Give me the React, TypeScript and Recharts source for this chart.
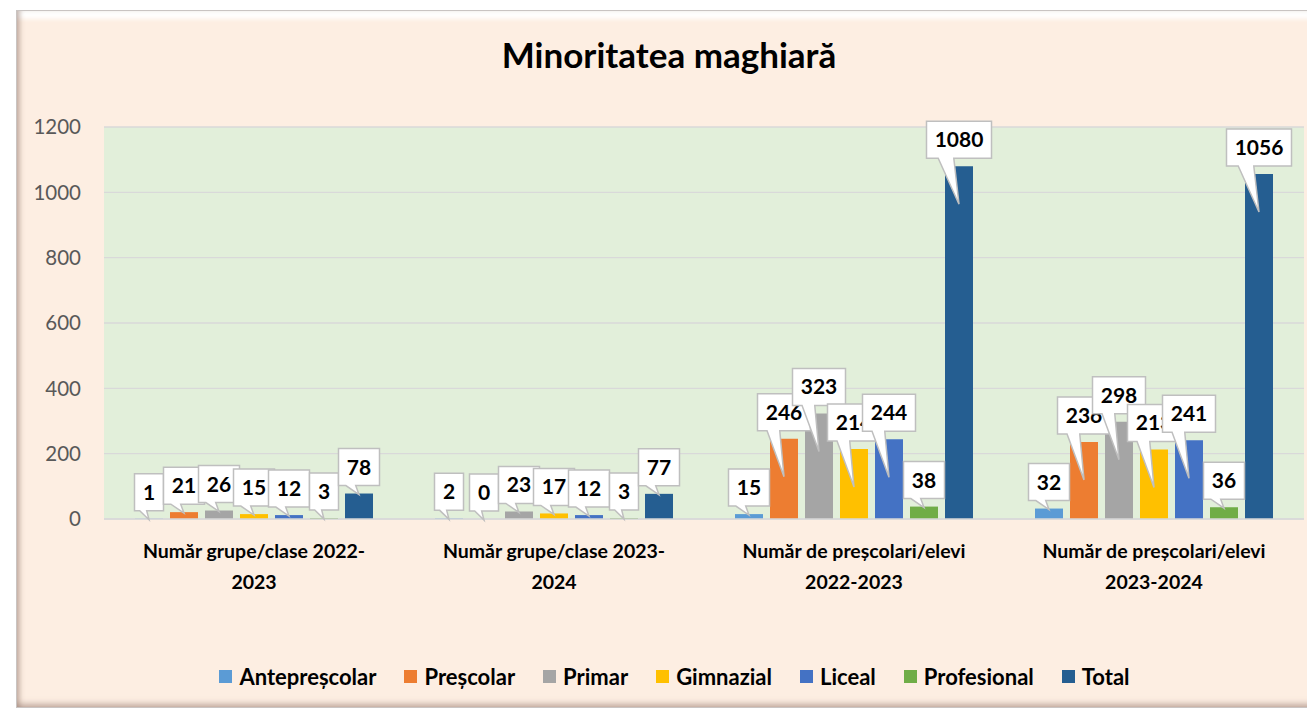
import React from "react";
import { BarChart, Bar, XAxis, YAxis, CartesianGrid, LabelList } from "recharts";

const categoryLines: string[][] = [
  ["Număr grupe/clase 2022-", "2023"],
  ["Număr grupe/clase 2023-", "2024"],
  ["Număr de preșcolari/elevi", "2022-2023"],
  ["Număr de preșcolari/elevi", "2023-2024"],
];
const categories = categoryLines.map((l) => l.join(" "));

const antepresc = [1, 2, 15, 32];
const presc = [21, 0, 246, 236];
const primar = [26, 23, 323, 298];
const gimnazial = [15, 17, 214, 213];
const liceal = [12, 12, 244, 241];
const profesional = [3, 3, 38, 36];
const total = [78, 77, 1080, 1056];

const yTicks = [0, 200, 400, 600, 800, 1000, 1200];

const seriesNames = ["Antepreșcolar", "Preșcolar", "Primar", "Gimnazial", "Liceal", "Profesional", "Total"];
const seriesKeys = ["a", "b", "c", "d", "e", "f", "g"];
const seriesValues = [antepresc, presc, primar, gimnazial, liceal, profesional, total];
const seriesColors = ["#5B9BD5", "#ED7D31", "#A5A5A5", "#FFC000", "#4472C4", "#70AD47", "#255E91"];

const data = categories.map((name, i) => {
  const row: Record<string, any> = { name, idx: i };
  seriesKeys.forEach((k, s) => (row[k] = seriesValues[s][i]));
  return row;
});

const FONT = "Lato, 'Noto Sans', sans-serif";

const CalloutLabel = (props: any) => {
  const x = Number(props.x ?? props.viewBox?.x ?? 0);
  const y = Number(props.y ?? props.viewBox?.y ?? 0);
  const w = Number(props.width ?? props.viewBox?.width ?? 0);
  const rawH = Number(props.height ?? props.viewBox?.height ?? 0);
  const h = Math.abs(rawH);
  const txt = String(props.value);
  const bx = x + w / 2;
  const top = Math.min(y, y + rawH);
  const boxW = txt.length * 12 + 17;
  const boxH = 37;
  const boxBottom = top - 8;
  const boxTop = boxBottom - boxH;
  const left = bx - boxW / 2;
  const right = left + boxW;
  const tipY = h > 38 ? top + 38 : top + 1;
  const baseL = left + boxW * 0.18;
  const baseR = left + boxW * 0.42;
  const d = `M${left},${boxTop} H${right} V${boxBottom} H${baseR} L${bx},${tipY} L${baseL},${boxBottom} H${left} Z`;
  return (
    <g>
      <path d={d} fill="#FFFFFF" stroke="#BFBFBF" strokeWidth={1.5} strokeLinejoin="miter" />
      <text
        x={bx}
        y={boxTop + boxH / 2 + 7.5}
        textAnchor="middle"
        fontFamily={FONT}
        fontWeight={700}
        fontSize={21}
        fill="#000000"
      >
        {txt}
      </text>
    </g>
  );
};

const CategoryTick = (props: any) => {
  const { x, payload } = props;
  const idx = categories.indexOf(payload.value);
  const lines = idx >= 0 ? categoryLines[idx] : [String(payload.value)];
  return (
    <g>
      {lines.map((ln, i) => (
        <text
          key={i}
          x={x}
          y={558 + i * 31}
          textAnchor="middle"
          fontFamily={FONT}
          fontWeight={700}
          fontSize={19.5}
          fill="#000000"
        >
          {ln}
        </text>
      ))}
    </g>
  );
};

const LegendContent = () => (
  <div
    style={{
      position: "absolute",
      left: 0,
      top: 0,
      width: 1307,
      display: "flex",
      justifyContent: "center",
      gap: 28,
      fontFamily: FONT,
      fontWeight: 700,
      fontSize: 22,
      color: "#000",
      paddingLeft: 42,
      boxSizing: "border-box",
    }}
  >
    {seriesNames.map((n, i) => (
      <div key={n} style={{ display: "flex", alignItems: "center", gap: 7 }}>
        <span style={{ width: 13, height: 13, background: seriesColors[i], display: "inline-block" }} />
        <span>{n}</span>
      </div>
    ))}
  </div>
);

export default function App() {
  return (
    <div
      style={{
        position: "absolute",
        left: 0,
        top: 0,
        width: 1307,
        height: 709,
        background: "#FFFFFF",
        overflow: "hidden",
      }}
    >
      <div
        style={{
          position: "absolute",
          left: 16,
          top: 10,
          width: 1310,
          height: 698,
          background: "#FDEEE2",
          border: "1.5px solid #C9C4C2",
          boxSizing: "border-box",
          boxShadow:
            "inset 5px 0 5px -2px rgba(140,110,100,0.45), inset 0 -6px 6px -3px rgba(140,110,100,0.5), inset 0 14px 4px -6px rgba(255,255,255,0.95)",
        }}
      />
      <div
        style={{
          position: "absolute",
          left: 0,
          top: 33,
          width: 1338,
          textAlign: "center",
          fontFamily: FONT,
          fontWeight: 700,
          fontSize: 35,
          color: "#000",
        }}
      >
        Minoritatea maghiară
      </div>
      <div style={{ position: "absolute", left: 0, top: 0 }}>
        <BarChart
          width={1307}
          height={709}
          data={data}
          margin={{ top: 127, right: 3, bottom: 0, left: 44 }}
          barSize={28}
          barGap={7}
        >
          <CartesianGrid vertical={false} stroke="#D9D9D9" strokeWidth={1.3} fill="#E2EFDA" />
          <XAxis
            dataKey="name"
            axisLine={{ stroke: "#D9D9D9", strokeWidth: 1.3 }}
            tickLine={false}
            interval={0}
            tick={<CategoryTick />}
            height={190}
          />
          <YAxis
            domain={[0, 1200]}
            ticks={yTicks}
            axisLine={false}
            tickLine={false}
            tickSize={0}
            tickMargin={23}
            width={60}
            tick={{ fill: "#595959", fontFamily: FONT, fontSize: 20.5 }}
          />
          {seriesKeys.map((k, i) => (
            <Bar
              key={k}
              dataKey={k}
              name={seriesNames[i]}
              fill={seriesColors[i]}
              minPointSize={0.01}
              isAnimationActive={false}
            >
              <LabelList dataKey={k} content={<CalloutLabel />} />
            </Bar>
          ))}
        </BarChart>
      </div>
      <div style={{ position: "absolute", left: 0, top: 663 }}>
        <LegendContent />
      </div>
    </div>
  );
}
